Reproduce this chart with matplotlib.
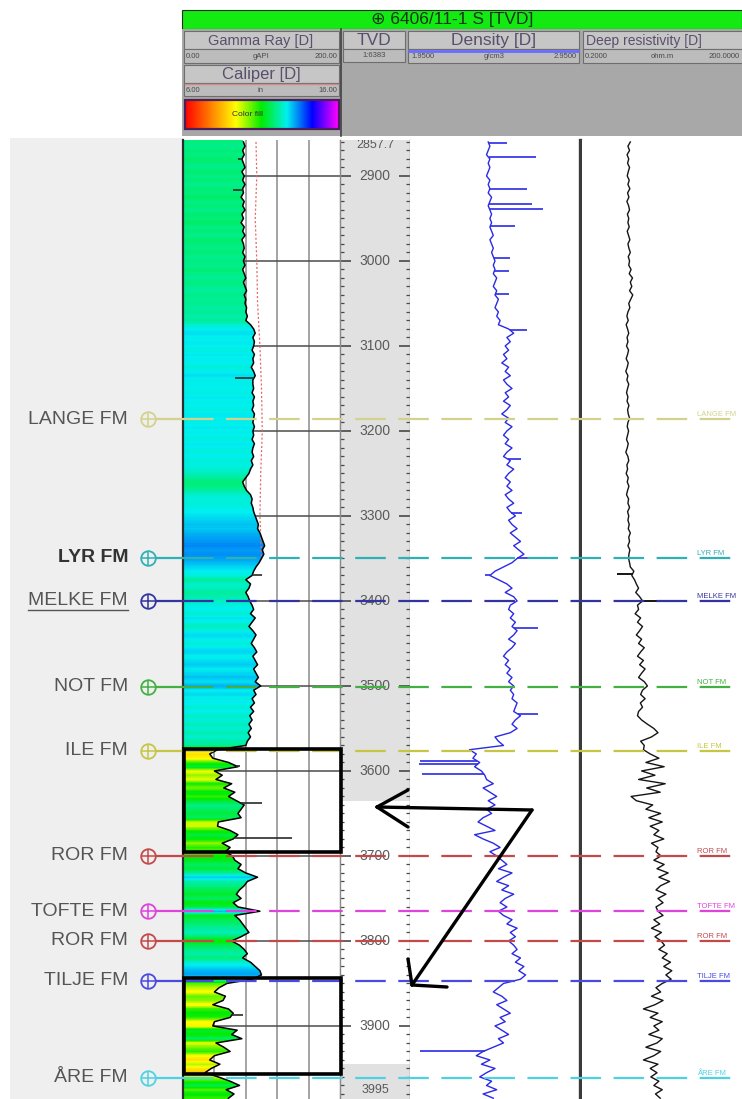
import numpy as np
import matplotlib
matplotlib.use('Agg')
import matplotlib.pyplot as plt
from matplotlib.patches import Rectangle
from matplotlib.colors import LinearSegmentedColormap, Normalize
from matplotlib.ticker import MultipleLocator

plt.rcParams['font.family'] = ['Liberation Sans', 'DejaVu Sans']
plt.rcParams['lines.scale_dashes'] = False

# ------------------------------------------------------------------ data
well_title = '\u2295 6406/11-1 S [TVD]'

sample_depth = np.arange(2860, 3990, 5)   # m TVD, 5 m sampling

gr_api = [
    77, 79, 76, 78, 75, 77, 79, 75, 78, 76,        # 2860-2905
    79, 76, 77, 74, 78, 76, 79, 75, 77, 74,        # 2910-2955
    78, 76, 79, 75, 77, 78, 76, 79, 77, 79,        # 2960-3005
    76, 78, 80, 77, 79, 81, 78, 80, 79, 81,        # 3010-3055
    80, 82, 80, 86, 90, 92, 89, 91, 90, 88,        # 3060-3105
    91, 89, 90, 87, 90, 92, 89, 89, 90, 88,        # 3110-3155
    91, 89, 90, 88, 91, 90, 89, 91, 89, 90,        # 3160-3205
    88, 91, 89, 88, 90, 87, 89, 86, 84, 80,        # 3210-3255
    76, 78, 81, 86, 88, 87, 89, 90, 92, 94,        # 3260-3305
    96, 95, 98, 100, 102, 104, 101, 103, 100, 97,  # 3310-3355
    93, 90, 88, 80, 86, 84, 80, 83, 85, 88,        # 3360-3405
    90, 86, 92, 88, 84, 89, 93, 90, 87, 91,        # 3410-3455
    94, 89, 92, 95, 90, 93, 96, 92, 99, 90,        # 3460-3505
    93, 88, 91, 86, 90, 85, 88, 84, 87, 83,        # 3510-3555
    86, 82, 80, 44, 34, 38, 58, 70, 40, 50,        # 3560-3605
    42, 62, 52, 66, 58, 68, 78, 74, 70, 74,        # 3610-3655
    45, 44, 60, 70, 64, 50, 60, 54, 63, 66,        # 3660-3705
    74, 70, 80, 95, 82, 78, 72, 68, 74, 64,        # 3710-3755
    70, 98, 66, 72, 76, 80, 84, 74, 62, 72,        # 3760-3805
    78, 82, 76, 86, 92, 98, 100, 88, 56, 46,       # 3810-3855
    40, 54, 51, 38, 58, 64, 60, 40, 38, 69,        # 3860-3905
    62, 75, 42, 52, 60, 40, 34, 47, 36, 28,        # 3910-3955
    45, 60, 72, 55, 65, 58,                        # 3960-3985
]
gr_spike_depth = [2880, 2916, 3138, 3370, 3594, 3638, 3679, 3887]
gr_spike_api = [70, 64, 66, 101, 73, 100, 139, 76]

den_gcc = [
    2.41, 2.42, 2.41, 2.40, 2.42, 2.41, 2.42, 2.41, 2.40, 2.42,  # 2860
    2.41, 2.42, 2.41, 2.43, 2.42, 2.41, 2.42, 2.43, 2.42, 2.43,  # 2910
    2.42, 2.43, 2.44, 2.42, 2.43, 2.44, 2.43, 2.44, 2.45, 2.44,  # 2960
    2.45, 2.44, 2.46, 2.45, 2.44, 2.46, 2.45, 2.47, 2.46, 2.45,  # 3010
    2.47, 2.46, 2.48, 2.47, 2.53, 2.56, 2.52, 2.54, 2.51, 2.53,  # 3060
    2.50, 2.52, 2.49, 2.53, 2.51, 2.54, 2.50, 2.52, 2.55, 2.51,  # 3110
    2.53, 2.50, 2.54, 2.52, 2.49, 2.53, 2.51, 2.55, 2.52, 2.50,  # 3160
    2.53, 2.51, 2.55, 2.52, 2.50, 2.54, 2.52, 2.56, 2.53, 2.51,  # 3210
    2.54, 2.52, 2.55, 2.51, 2.53, 2.56, 2.52, 2.54, 2.57, 2.53,  # 3260
    2.55, 2.58, 2.54, 2.57, 2.60, 2.56, 2.59, 2.62, 2.58, 2.55,  # 3310
    2.50, 2.45, 2.42, 2.47, 2.52, 2.55, 2.51, 2.56, 2.58, 2.54,  # 3360
    2.53, 2.56, 2.54, 2.57, 2.55, 2.58, 2.56, 2.53, 2.57, 2.55,  # 3410
    2.52, 2.50, 2.53, 2.51, 2.54, 2.52, 2.55, 2.53, 2.56, 2.54,  # 3460
    2.56, 2.55, 2.58, 2.57, 2.56, 2.60, 2.57, 2.55, 2.58, 2.54,  # 3510
    2.45, 2.47, 2.50, 2.30, 2.34, 2.32, 2.36, 2.33, 2.37, 2.39,  # 3560
    2.40, 2.44, 2.38, 2.42, 2.46, 2.41, 2.45, 2.40, 2.43, 2.38,  # 3610
    2.35, 2.40, 2.45, 2.33, 2.38, 2.44, 2.48, 2.42, 2.46, 2.49,  # 3660
    2.52, 2.47, 2.55, 2.50, 2.46, 2.53, 2.49, 2.56, 2.51, 2.48,  # 3710
    2.52, 2.47, 2.50, 2.55, 2.52, 2.58, 2.54, 2.57, 2.53, 2.56,  # 3760
    2.58, 2.55, 2.60, 2.57, 2.62, 2.59, 2.63, 2.60, 2.50, 2.47,  # 3810
    2.44, 2.49, 2.52, 2.46, 2.50, 2.54, 2.48, 2.51, 2.45, 2.49,  # 3860
    2.53, 2.47, 2.50, 2.44, 2.38, 2.34, 2.42, 2.37, 2.45, 2.40,  # 3910
    2.36, 2.43, 2.40, 2.46, 2.38, 2.44,                          # 3960
]
den_spike_depth = [2861, 2878, 2915, 2933, 2939, 2959, 2996, 3012, 3039, 3081,
                   3233, 3296, 3350, 3370, 3432, 3533, 3588, 3592, 3604, 3929]
den_spike_gcc = [2.52, 2.69, 2.64, 2.67, 2.73, 2.57, 2.54, 2.53, 2.53, 2.64,
                 2.60, 2.61, 2.66, 2.39, 2.70, 2.70, 2.01, 2.00, 2.02, 2.01]

res_ohmm = [
    1.55, 1.40, 1.50, 1.35, 1.45, 1.38, 1.50, 1.42, 1.36, 1.48,  # 2860
    1.40, 1.52, 1.38, 1.46, 1.34, 1.44, 1.50, 1.37, 1.45, 1.40,  # 2910
    1.48, 1.36, 1.44, 1.52, 1.40, 1.46, 1.55, 1.42, 1.50, 1.45,  # 2960
    1.60, 1.48, 1.70, 1.55, 1.65, 1.50, 1.72, 1.58, 1.45, 1.52,  # 3010
    1.40, 1.34, 1.42, 1.30, 1.38, 1.45, 1.35, 1.40, 1.32, 1.44,  # 3060
    1.38, 1.30, 1.42, 1.36, 1.28, 1.40, 1.34, 1.45, 1.38, 1.32,  # 3110
    1.40, 1.35, 1.46, 1.38, 1.42, 1.50, 1.40, 1.36, 1.44, 1.38,  # 3160
    1.32, 1.42, 1.36, 1.28, 1.40, 1.45, 1.34, 1.38, 1.30, 1.42,  # 3210
    1.36, 1.46, 1.38, 1.32, 1.44, 1.40, 1.50, 1.38, 1.45, 1.40,  # 3260
    1.48, 1.42, 1.55, 1.45, 1.50, 1.40, 1.52, 1.46, 1.44, 1.50,  # 3310
    1.55, 1.80, 1.65, 1.85, 2.00, 2.20, 1.95, 2.30, 2.60, 2.10,  # 3360
    2.20, 1.90, 2.40, 2.10, 2.60, 2.30, 2.00, 2.50, 2.20, 2.80,  # 3410
    2.40, 2.10, 2.70, 2.30, 2.90, 2.50, 2.20, 2.80, 3.20, 2.60,  # 3460
    2.40, 2.90, 2.37, 2.60, 2.20, 2.10, 2.50, 3.20, 4.20, 5.00,  # 3510
    3.80, 2.40, 2.80, 2.70, 3.60, 5.20, 3.00, 6.50, 2.50, 4.40,  # 3560
    2.20, 6.80, 3.10, 5.50, 1.60, 2.00, 4.00, 3.00, 5.60, 3.40,  # 3610
    6.00, 3.60, 5.20, 4.20, 6.40, 3.80, 5.00, 4.60, 5.70, 4.20,  # 3660
    6.50, 4.80, 7.70, 5.20, 8.20, 5.60, 4.60, 7.00, 5.00, 6.20,  # 3710
    4.60, 5.00, 6.20, 4.20, 5.40, 3.80, 5.80, 4.40, 5.70, 6.60,  # 3760
    5.20, 7.40, 6.00, 8.50, 6.40, 9.00, 7.00, 8.75, 6.00, 4.60,  # 3810
    5.60, 3.80, 6.20, 4.40, 2.70, 5.00, 3.60, 6.00, 4.20, 5.20,  # 3860
    3.40, 6.00, 4.80, 3.00, 5.60, 4.20, 2.70, 5.00, 3.60, 4.80,  # 3910
    3.70, 5.20, 4.20, 6.00, 4.50, 5.50,                          # 3960
]
res_spike_depth = [3368, 3400]
res_spike_ohmm = [0.87, 5.7]

cal_depth = [2860, 2900, 2950, 3000, 3050, 3100, 3150, 3200, 3250, 3300, 3350]
cal_in = [10.65, 10.7, 10.6, 10.7, 10.75, 10.9, 11.0, 11.05, 10.95, 10.9, 11.0]

fm_names = ['LANGE FM', 'LYR FM', 'MELKE FM', 'NOT FM', 'ILE FM',
            'ROR FM', 'TOFTE FM', 'ROR FM', 'TILJE FM', '\u00c5RE FM']
fm_depths = [3186, 3349, 3400, 3501, 3576, 3700, 3765, 3800, 3847, 3961]
fm_colors = ['#d2d28c', '#2eb0b4', '#3434a0', '#44b044', '#c6c644',
             '#c44a4a', '#dc44dc', '#c44a4a', '#4a4ae0', '#4ed2e2']

depth_labels = [2900, 3000, 3100, 3200, 3300, 3400, 3500, 3600, 3700, 3800, 3900]
depth_top_label = '2857.7'
depth_bottom_label = '3995'
gray_depth_zones = [(2857.7, 3635), (3945, 4000)]
highlight_zones = [(3574, 3695), (3843, 3956)]

# colour-fill scale (GR value at which each colour is reached)
fill_stops_api = [-30, 15, 40, 63, 90, 122, 146]
fill_stop_colors = ['#ff0000', '#ff8000', '#ffff00', '#00ec00', '#00f0f0', '#0000ff', '#ff00ff']

# ------------------------------------------------------------------ layout
W, H = 742, 1099
TRACK_TOP = 140
DEPTH_TOP = 2857.7
PX_PER_M = 0.85
DEPTH_BOT = DEPTH_TOP + (H - TRACK_TOP) / PX_PER_M

fig = plt.figure(figsize=(W / 100, H / 100), dpi=100)
fig.patch.set_facecolor('white')


def px_axes(x0, y0, x1, y1, z):
    ax = fig.add_axes([x0 / W, 1 - y1 / H, (x1 - x0) / W, (y1 - y0) / H])
    ax.set_zorder(z)
    return ax


bg = px_axes(0, 0, W, H, 0)
bg.set_xlim(0, W)
bg.set_ylim(H, 0)
bg.axis('off')

# left panel
bg.add_patch(Rectangle((10, 138), 173, H - 138, fc='#efefef', ec='none'))

# header
bg.add_patch(Rectangle((182, 10), W - 182, 19, fc='#12ea12', ec='#2a2a2a', lw=0.8))
bg.add_patch(Rectangle((182, 29), W - 182, 107, fc='#a8a8a8', ec='none'))
bg.text(452, 19.5, well_title, ha='center', va='center', fontsize=12.5,
        color='#173517', family=['Liberation Sans', 'DejaVu Sans'])

hdr_txt = '#5a4f6c'
small_txt = '#4a4a4a'


def header_box(x0, x1, y0, y1, fc='#c6c6c6'):
    bg.add_patch(Rectangle((x0, y0), x1 - x0, y1 - y0, fc=fc, ec='#6e6e6e', lw=0.8))


# Gamma ray
header_box(184, 339, 31, 49)
bg.text(261, 40.5, 'Gamma Ray [D]', ha='center', va='center', fontsize=10.5, color=hdr_txt)
header_box(184, 339, 49, 63, fc='#bcbcbc')
bg.text(186, 56, '0.00', ha='left', va='center', fontsize=5.5, color=small_txt)
bg.text(261, 56, 'gAPI', ha='center', va='center', fontsize=5.5, color=small_txt)
bg.text(337, 56, '200.00', ha='right', va='center', fontsize=5.5, color=small_txt)
# Caliper
header_box(184, 339, 65, 83)
bg.text(261, 74, 'Caliper [D]', ha='center', va='center', fontsize=12, color=hdr_txt)
header_box(184, 339, 83, 96, fc='#bcbcbc')
bg.plot([185, 338], [84, 84], color='#d08a8a', lw=1)
bg.text(186, 90, '6.00', ha='left', va='center', fontsize=5.5, color=small_txt)
bg.text(261, 90, 'in', ha='center', va='center', fontsize=5.5, color=small_txt)
bg.text(337, 90, '16.00', ha='right', va='center', fontsize=5.5, color=small_txt)

# colour fill legend (evenly spaced rainbow)
legend_cmap = LinearSegmentedColormap.from_list('cfl', fill_stop_colors)
vmin, vmax = fill_stops_api[0], fill_stops_api[-1]
fill_cmap = LinearSegmentedColormap.from_list(
    'cf', [((s - vmin) / (vmax - vmin), c) for s, c in zip(fill_stops_api, fill_stop_colors)])
fill_norm = Normalize(vmin, vmax)
bg.imshow(np.linspace(0, 1, 256)[None, :], cmap=legend_cmap, aspect='auto',
          extent=(185, 338, 128, 100), zorder=2)
bg.add_patch(Rectangle((184.5, 99.5), 154, 29, fc='none', ec='#4a1f5a', lw=1.6, zorder=3))
bg.text(248, 114, 'Color fill', ha='center', va='center', fontsize=6, color='#303030', zorder=4)
bg.plot([340.5, 340.5], [29, 136], color='#404040', lw=1.2)

# TVD
header_box(343, 405, 31, 49)
bg.text(374, 40.5, 'TVD', ha='center', va='center', fontsize=12.5, color=hdr_txt)
header_box(343, 405, 49, 62, fc='#bcbcbc')
bg.text(374, 55.5, '1:6383', ha='center', va='center', fontsize=5.5, color=small_txt)
# Density
header_box(408, 579, 31, 49)
bg.text(494, 40.5, 'Density [D]', ha='center', va='center', fontsize=12.5, color=hdr_txt)
header_box(408, 579, 49, 63, fc='#bcbcbc')
bg.plot([409, 578], [50.5, 50.5], color='#6b6bff', lw=2)
bg.text(411, 57, '1.9500', ha='left', va='center', fontsize=5.5, color=small_txt)
bg.text(494, 57, 'g/cm3', ha='center', va='center', fontsize=5.5, color=small_txt)
bg.text(577, 57, '2.9500', ha='right', va='center', fontsize=5.5, color=small_txt)
# Resistivity
header_box(583, 750, 31, 49)
bg.text(586, 40.5, 'Deep resistivity [D]', ha='left', va='center', fontsize=10, color=hdr_txt)
header_box(583, 750, 49, 63, fc='#bcbcbc')
bg.text(585, 56, '0.2000', ha='left', va='center', fontsize=5.5, color=small_txt)
bg.text(662, 56, 'ohm.m', ha='center', va='center', fontsize=5.5, color=small_txt)
bg.text(740, 56, '200.0000', ha='right', va='center', fontsize=5.5, color=small_txt)

# ------------------------------------------------------------------ tracks
ax_gr = px_axes(183, TRACK_TOP, 340, H, 1)
ax_dep = px_axes(340, TRACK_TOP, 410, H, 1)
ax_den = px_axes(410, TRACK_TOP, 580, H, 1)
ax_res = px_axes(582, TRACK_TOP, 745, H, 1)

for ax in (ax_gr, ax_dep, ax_den, ax_res):
    ax.set_facecolor('white')
    ax.set_xticks([])
    ax.set_yticks([])
    for s in ax.spines.values():
        s.set_visible(False)

# --- GR / caliper track
for g in (40, 80, 120, 160):
    ax_gr.axvline(g, color='#a4a4a4', lw=1.4, zorder=1)
for d in depth_labels:
    ax_gr.axhline(d, color='#4c4c4c', lw=1.1, zorder=1)

dfine = np.arange(DEPTH_TOP, DEPTH_BOT, 0.5)
grf = np.interp(dfine, sample_depth, gr_api)
xcols = np.linspace(0, 200, 800)
cols = fill_cmap(fill_norm(grf))
img = np.repeat(cols[:, None, :], len(xcols), axis=1)
img[..., 3] = (xcols[None, :] <= grf[:, None]).astype(float)
ax_gr.imshow(img, extent=(0, 200, dfine[-1], dfine[0]), aspect='auto',
             interpolation='nearest', zorder=2)

cal_x = [(c - 6.0) / 10.0 * 200 for c in cal_in]
ax_gr.plot(cal_x, cal_depth, color='#e46a6a', lw=0.9, ls=(0, (1.5, 1.5)), zorder=3)
ax_gr.plot(gr_api, sample_depth, color='black', lw=1.1, zorder=4)
gr_base = np.interp(gr_spike_depth, sample_depth, gr_api)
ax_gr.hlines(gr_spike_depth, gr_base, gr_spike_api, color='#2a2a2a', lw=1.2, zorder=4)
ax_gr.set_xlim(0, 200)
ax_gr.set_ylim(DEPTH_BOT, DEPTH_TOP)
ax_gr.spines['left'].set_visible(True)
ax_gr.spines['left'].set_color('#2e2e2e')
ax_gr.spines['left'].set_linewidth(1.6)
ax_gr.spines['right'].set_visible(True)
ax_gr.spines['right'].set_color('#707070')

# --- depth track
for z0, z1 in gray_depth_zones:
    ax_dep.axhspan(z0, z1, color='#e1e1e1', lw=0, zorder=0)
ax_dep.set_ylim(DEPTH_BOT, DEPTH_TOP)
ax_dep.set_xlim(0, 1)
ax_dep.yaxis.set_major_locator(MultipleLocator(100))
ax_dep.yaxis.set_minor_locator(MultipleLocator(10))
ax_dep.tick_params(axis='y', which='both', direction='in', left=True, right=True,
                   labelleft=False, labelright=False, color='#484848')
ax_dep.tick_params(axis='y', which='major', length=8, width=1.2)
ax_dep.tick_params(axis='y', which='minor', length=3, width=0.9)
for side in ('left', 'right'):
    ax_dep.spines[side].set_visible(True)
    ax_dep.spines[side].set_color('#8a8a8a')
    ax_dep.spines[side].set_linewidth(1.0)
ytr = ax_dep.get_yaxis_transform()
for d in depth_labels:
    ax_dep.text(0.5, d, str(d), ha='center', va='center', fontsize=10,
                color='#5a5a5a', transform=ytr, clip_on=True)
ax_dep.text(0.5, DEPTH_TOP + 5.5, depth_top_label, ha='center', va='center', fontsize=9,
            color='#5a5a5a', transform=ytr, clip_on=True)
ax_dep.text(0.5, 3975.5, depth_bottom_label, ha='center', va='center', fontsize=9,
            color='#5a5a5a', transform=ytr)

# --- density track
ax_den.plot(den_gcc, sample_depth, color='#2a2ae6', lw=1.0, zorder=3)
den_base = np.interp(den_spike_depth, sample_depth, den_gcc)
ax_den.hlines(den_spike_depth, den_base, den_spike_gcc, color='#2a2ae6', lw=1.2, zorder=3)
ax_den.set_xlim(1.95, 2.95)
ax_den.set_ylim(DEPTH_BOT, DEPTH_TOP)
ax_den.spines['right'].set_visible(True)
ax_den.spines['right'].set_color('#3a3a3a')
ax_den.spines['right'].set_linewidth(2.4)

# --- resistivity track
ax_res.set_xscale('log')
ax_res.plot(res_ohmm, sample_depth, color='#151515', lw=1.0, zorder=3)
res_base = np.interp(res_spike_depth, sample_depth, res_ohmm)
ax_res.hlines(res_spike_depth, res_base, res_spike_ohmm, color='#151515', lw=1.4, zorder=3)
ax_res.set_xlim(0.2, 200)
ax_res.set_ylim(DEPTH_BOT, DEPTH_TOP)
ax_res.set_xticks([])
ax_res.set_xticks([], minor=True)

# ------------------------------------------------------------------ formation tops
ax_fm = px_axes(0, TRACK_TOP, W, H, 3)
ax_fm.set_xlim(0, W)
ax_fm.set_ylim(DEPTH_BOT, DEPTH_TOP)
ax_fm.axis('off')
ax_fm.patch.set_visible(False)

label_objs = []
for name, d, c in zip(fm_names, fm_depths, fm_colors):
    ax_fm.plot([155, 183], [d, d], color=c, lw=1.6, solid_capstyle='butt')
    ax_fm.plot([183, W], [d, d], color=c, lw=1.6, ls=(0, (22, 9)))
    ax_fm.plot(148, d, marker='o', ms=10.5, mfc='none', mec=c, mew=1.3)
    ax_fm.plot(148, d, marker='+', ms=10.5, mec=c, mew=1.1)
    bold = name == 'LYR FM'
    t = ax_fm.text(128, d, name, ha='right', va='center', fontsize=14,
                   fontweight='bold' if bold else 'normal',
                   color='#333333' if bold else '#555555')
    label_objs.append(t)
    ax_fm.text(697, d - 1.2, name, ha='left', va='bottom', fontsize=5.5, color=c)

# underline MELKE FM
fig.canvas.draw()
renderer = fig.canvas.get_renderer()
t_melke = label_objs[fm_names.index('MELKE FM')]
bb = t_melke.get_window_extent(renderer)
inv = ax_fm.transData.inverted()
(ux0, uy), (ux1, _) = inv.transform([(bb.x0, bb.y0 - 1), (bb.x1, bb.y0 - 1)])
ax_fm.plot([ux0, ux1], [uy, uy], color='#555555', lw=1.0)

# highlight boxes around intervals of the GR track
for z0, z1 in highlight_zones:
    ax_fm.add_patch(Rectangle((184, z0), 157, z1 - z0, fc='none', ec='black', lw=2.6, zorder=6))

# ------------------------------------------------------------------ arrows (annotation)
ann = px_axes(0, 0, W, H, 4)
ann.set_xlim(0, W)
ann.set_ylim(H, 0)
ann.axis('off')
ann.patch.set_visible(False)
arrow_segments = [
    [(377, 807), (532, 810)], [(377, 807), (408, 790)], [(377, 807), (408, 827)],
    [(532, 810), (412, 985)], [(412, 985), (408, 959)], [(412, 985), (447, 987)],
]
for seg in arrow_segments:
    xs, ys = zip(*seg)
    ann.plot(xs, ys, color='black', lw=2.4, solid_capstyle='round')

fig.savefig('out.png', dpi=100)
